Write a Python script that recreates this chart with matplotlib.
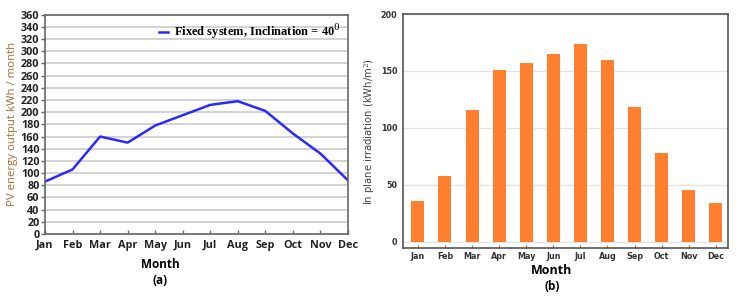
import matplotlib
matplotlib.use("Agg")
import matplotlib.pyplot as plt
import numpy as np

months = ["Jan", "Feb", "Mar", "Apr", "May", "Jun", "Jul", "Aug", "Sep", "Oct", "Nov", "Dec"]
pv_output = [86, 106, 160, 150, 178, 195, 212, 218, 202, 165, 132, 88]
irradiation = [36, 58, 116, 151, 157, 165, 174, 160, 118, 78, 46, 34]
pv_yticks = list(range(0, 361, 20))
irr_yticks = [0, 50, 100, 150, 200]

fig = plt.figure(figsize=(7.39, 2.99), dpi=100)

# ---------- panel (a) ----------
ax1 = fig.add_axes([45/739, 1-234/299, 303/739, (234-14.7)/299])
x = np.arange(len(months))
ax1.plot(x, pv_output, color="#2a2aff", lw=1.8,
         label="Fixed system, Inclination = 40$^0$")
ax1.set_xlim(0, 11)
ax1.set_ylim(0, 360)
ax1.set_yticks(pv_yticks)
ax1.set_xticks(x)
ax1.set_xticklabels(months)
ax1.grid(axis="y", color="#cfcfcf", lw=1.3)
ax1.set_axisbelow(True)
for s in ax1.spines.values():
    s.set_color("#666666")
    s.set_linewidth(1.2)
ax1.tick_params(axis="both", labelsize=7.8, length=3, width=1, color="#666666", pad=1)
ax1.tick_params(axis="x", direction="in", pad=4)
for lab in ax1.get_xticklabels() + ax1.get_yticklabels():
    lab.set_fontweight("bold")
    lab.set_color("#222222")
    lab.set_family("Open Sans")
ax1.set_ylabel("PV energy output kWh / month", color="#a86a30", fontsize=8.2,
               family="Open Sans", labelpad=2)
plt.rcParams["mathtext.fontset"] = "dejavuserif"
leg = ax1.legend(loc="upper right", frameon=False, handlelength=0.7, handletextpad=0.5,
                 prop={"family": "Liberation Serif", "weight": "bold", "size": 9},
                 borderaxespad=0.2)
fig.text(160/739, 1-264/299, "Month", ha="center", va="center", fontsize=8.5,
         fontweight="bold", family="Open Sans")
fig.text(160/739, 1-281/299, "(a)", ha="center", va="center", fontsize=8.5,
         fontweight="bold", family="Open Sans")

# ---------- panel (b) ----------
ax2 = fig.add_axes([403/739, 1-248/299, 325/739, 234/299])
ax2.bar(x, irradiation, width=0.48, color="#ff7f2f")
ax2.set_xlim(-0.55, 11.45)
ax2.set_ylim(-5.3, 200)
ax2.set_yticks(irr_yticks)
ax2.set_xticks(x)
ax2.set_xticklabels(months)
ax2.grid(axis="y", color="#e2e2e2", lw=1.0)
ax2.set_axisbelow(True)
for s in ax2.spines.values():
    s.set_color("#555555")
    s.set_linewidth(1.2)
ax2.tick_params(axis="both", labelsize=5.8, length=2, width=0.8, color="#777777",
                direction="in", pad=3)
ax2.tick_params(axis="y", length=0, pad=4)
for lab in ax2.get_xticklabels() + ax2.get_yticklabels():
    lab.set_fontweight("bold")
    lab.set_color("#333333")
ax2.set_ylabel("In plane irradiation (kWh/m$^2$)", color="#444444", fontsize=7.2,
               labelpad=3)
fig.text(552/739, 1-271/299, "Month", ha="center", va="center", fontsize=9,
         fontweight="bold", family="Open Sans")
fig.text(552/739, 1-287/299, "(b)", ha="center", va="center", fontsize=8.5,
         fontweight="bold", family="Open Sans")

fig.savefig("out.png", dpi=100)
